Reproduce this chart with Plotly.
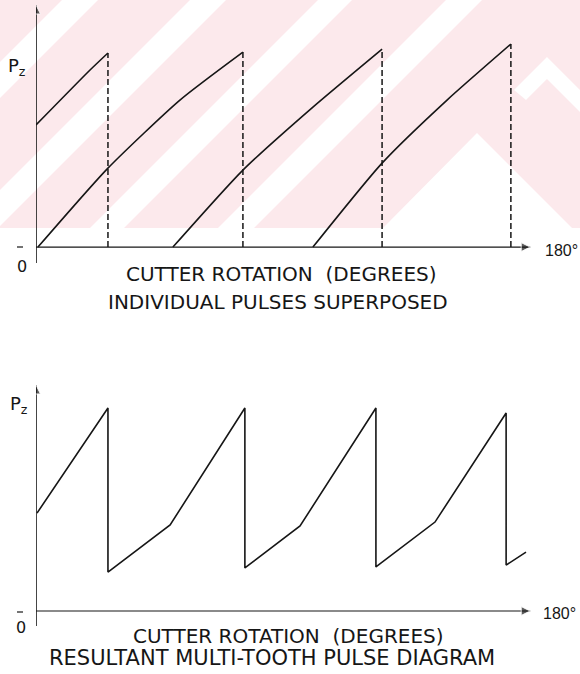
import plotly.graph_objects as go

W, H = 580, 674

# ---------------- data (degrees of cutter rotation, force in units of Pz) ----------------
# top chart: individual tooth pulses
pulse_a_x = [0.0, 19.3, 25.7]
pulse_a_y = [0.682, 0.989, 1.084]
pulse_b_x = [0.7, 25.7, 51.4, 73.9]
pulse_b_y = [0.0, 0.441, 0.821, 1.089]
pulse_c_x = [48.9, 73.9, 98.9, 123.6]
pulse_c_y = [0.0, 0.430, 0.782, 1.106]
pulse_d_x = [98.9, 123.6, 146.8, 169.6]
pulse_d_y = [0.0, 0.469, 0.821, 1.134]
exit_x = [25.7, 73.9, 123.6, 169.6]
exit_peak = [1.084, 1.089, 1.106, 1.134]

# bottom chart: resultant multi-tooth pulse
result_x = [0.36, 25.7, 25.7, 47.9, 74.6, 74.6, 94.3, 121.4, 121.4, 142.5, 167.9, 167.9, 175.0]
result_y = [0.480, 0.995, 0.191, 0.422, 0.995, 0.211, 0.417, 0.995, 0.216, 0.436, 0.971, 0.225, 0.289]

x_end = 176.5
top_ymax, top_ymin = 1.352, -0.089
bot_ymax, bot_ymin = 1.108, -0.0735

INK = "#161616"
PINK = "#fce9ec"


def px(x, y):
    return x / W, 1 - y / H


fig = go.Figure()

# ---------------- faint watermark (pink background with white stripes) ----------------
shapes = []
x0, y0 = px(0, 0)
x1, y1 = px(W, 228)
shapes.append(dict(type="rect", xref="paper", yref="paper", x0=x0, y0=y1, x1=x1, y1=y0,
                   fillcolor=PINK, line_width=0, layer="below"))


def path(points):
    s = ""
    for i, (x, y) in enumerate(points):
        u, v = px(x, y)
        s += ("M" if i == 0 else "L") + f"{u:.5f},{v:.5f}"
    return s + "Z"


def band(c1, c2, bottom=228):
    def start(c):
        return (c, 0)

    def end(c):
        return (0, c) if c <= bottom else (c - bottom, bottom)
    pts = [start(c1), start(c2), end(c2)]
    if c1 <= bottom < c2:
        pts.append((0, bottom))
    pts.append(end(c1))
    return pts


for c1, c2 in [(62, 98), (190, 226), (318, 352), (446, 482)]:
    shapes.append(dict(type="path", xref="paper", yref="paper", path=path(band(c1, c2)),
                       fillcolor="white", line_width=0, layer="below"))
shapes.append(dict(type="path", xref="paper", yref="paper",
                   path=path([(477, 133), (383, 228), (572, 228)]),
                   fillcolor="white", line_width=0, layer="below"))
shapes.append(dict(type="path", xref="paper", yref="paper",
                   path=path([(514, 90), (547, 57), (580, 90), (580, 112), (547, 79), (526, 100)]),
                   fillcolor="white", line_width=0, layer="below"))

# small zero-level ticks left of the y axes
for yy in (247, 612):
    a, b = px(17, yy)
    c, d = px(23, yy)
    shapes.append(dict(type="line", xref="paper", yref="paper", x0=a, y0=b, x1=c, y1=d,
                       line=dict(color=INK, width=1.2)))

# ---------------- top chart traces ----------------
for xs, ys in [(pulse_a_x, pulse_a_y), (pulse_b_x, pulse_b_y),
               (pulse_c_x, pulse_c_y), (pulse_d_x, pulse_d_y)]:
    fig.add_trace(go.Scatter(x=xs, y=ys, mode="lines",
                             line=dict(color=INK, width=1.6, shape="spline", smoothing=0.6),
                             xaxis="x", yaxis="y", showlegend=False, hoverinfo="skip"))
for xv, pk in zip(exit_x, exit_peak):
    fig.add_trace(go.Scatter(x=[xv, xv], y=[0, pk], mode="lines",
                             line=dict(color=INK, width=1.5, dash="6px,3px"),
                             xaxis="x", yaxis="y", showlegend=False, hoverinfo="skip"))

# ---------------- bottom chart trace ----------------
fig.add_trace(go.Scatter(x=result_x, y=result_y, mode="lines", line=dict(color=INK, width=1.6),
                         xaxis="x2", yaxis="y2", showlegend=False, hoverinfo="skip"))

# ---------------- axes drawn as lines with arrow markers ----------------
for xa, ya, ymin, ymax in [("x", "y", top_ymin, top_ymax), ("x2", "y2", bot_ymin, bot_ymax)]:
    fig.add_trace(go.Scatter(x=[0, 0], y=[ymin, ymax], mode="lines+markers",
                             line=dict(color=INK, width=1.6),
                             marker=dict(symbol="arrow-up", size=[0, 9], color=INK),
                             xaxis=xa, yaxis=ya, showlegend=False, hoverinfo="skip"))
    fig.add_trace(go.Scatter(x=[0, x_end], y=[0, 0], mode="lines+markers",
                             line=dict(color=INK, width=1.2),
                             marker=dict(symbol="arrow-right", size=[0, 9], color=INK),
                             xaxis=xa, yaxis=ya, showlegend=False, hoverinfo="skip"))

xd = [36 / W, (36 + 180 * 2.8) / W]
top_dom = [1 - 263 / H, 1 - 5 / H]
bot_dom = [1 - 626 / H, 1 - 385 / H]
fig.update_layout(
    xaxis=dict(domain=xd, range=[0, 180], visible=False, anchor="y"),
    yaxis=dict(domain=top_dom, range=[top_ymin, top_ymax], visible=False, anchor="x"),
    xaxis2=dict(domain=xd, range=[0, 180], visible=False, anchor="y2"),
    yaxis2=dict(domain=bot_dom, range=[bot_ymin, bot_ymax], visible=False, anchor="x2"),
)

ann = []
FONT = "DejaVu Sans"


def text(t, x, y, size, anchor="center", family=FONT):
    u, v = px(x, y)
    ann.append(dict(text=t, x=u, y=v, xref="paper", yref="paper", showarrow=False,
                    xanchor=anchor, yanchor="middle", font=dict(family=family, size=size, color=INK)))


text("CUTTER ROTATION  (DEGREES)", 281, 274, 20)
text("INDIVIDUAL PULSES SUPERPOSED", 278, 302, 20)
text("CUTTER ROTATION  (DEGREES)", 288, 636, 20)
text("RESULTANT MULTI-TOOTH PULSE DIAGRAM", 272, 658, 21)
text("180°", 543, 251, 16, "left", "Liberation Sans")
text("180°", 541, 613, 16, "left", "Liberation Sans")
text("0", 22, 266, 16)
text("0", 21, 627, 16)
text("P<sub>z</sub>", 17, 67, 18)
text("P<sub>z</sub>", 19, 405, 18)

fig.update_layout(width=W, height=H, margin=dict(l=0, r=0, t=0, b=0),
                  paper_bgcolor="white", plot_bgcolor="rgba(0,0,0,0)",
                  shapes=shapes, annotations=ann, showlegend=False)

fig.write_html("out.html")
